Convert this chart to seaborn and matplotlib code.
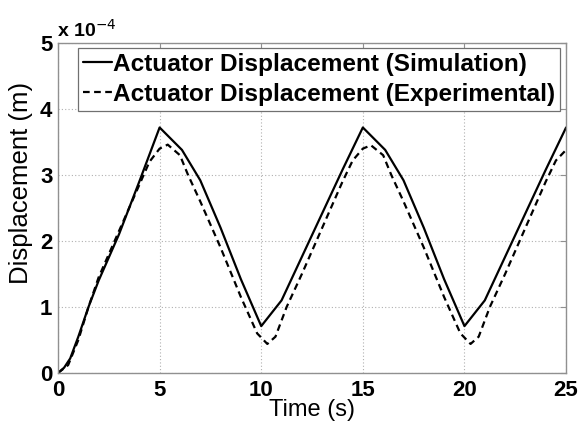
import matplotlib
matplotlib.use("Agg")
import matplotlib.pyplot as plt
import seaborn as sns
import pandas as pd

# ============================================================
# 데이터 (변위 단위: 1e-4 m)
# ============================================================

sim_t = [0, 0.3, 0.6, 1, 1.5, 2, 3, 4, 5, 6.1, 7, 8, 9, 10,
         11, 12, 13, 14, 15, 16.1, 17, 18, 19, 20,
         21, 22, 23, 24, 25]
sim_disp = [0, 0.08, 0.22, 0.55, 1.0, 1.4, 2.1, 2.9, 3.72, 3.38, 2.92, 2.2, 1.42, 0.71,
            1.1, 1.76, 2.42, 3.08, 3.72, 3.38, 2.92, 2.2, 1.42, 0.71,
            1.1, 1.76, 2.42, 3.08, 3.72]

exp_t = [0, 0.5, 1, 1.5, 2, 3, 4, 4.5, 5, 5.4, 6, 6.4, 7, 8, 9, 9.8, 10.3, 10.7,
         11.25, 12, 13, 14, 14.5, 15, 15.4, 16, 16.4, 17, 18, 19, 19.8, 20.3, 20.7,
         21.25, 22, 23, 24, 24.5, 25]
exp_disp = [0, 0.12, 0.5, 1.0, 1.45, 2.15, 2.85, 3.2, 3.4, 3.46, 3.3, 3.0, 2.6, 1.9, 1.15, 0.6, 0.44, 0.55,
            1.0, 1.5, 2.2, 2.9, 3.22, 3.4, 3.45, 3.3, 3.0, 2.6, 1.9, 1.15, 0.6, 0.44, 0.55,
            1.0, 1.5, 2.2, 2.9, 3.22, 3.38]

labels = ["Actuator Displacement (Simulation)", "Actuator Displacement (Experimental)"]
x_ticks = [0, 5, 10, 15, 20, 25]
y_ticks = [0, 1, 2, 3, 4, 5]

# ============================================================
# 기본 설정
# ============================================================

sns.set_style("white")
plt.rcParams["font.family"] = ["Liberation Sans", "DejaVu Sans"]
plt.rcParams["text.color"] = "black"
plt.rcParams["axes.labelcolor"] = "black"
plt.rcParams["xtick.labelcolor"] = "black"
plt.rcParams["ytick.labelcolor"] = "black"

df_sim = pd.DataFrame({"t": sim_t, "d": sim_disp})
df_exp = pd.DataFrame({"t": exp_t, "d": exp_disp})

fig = plt.figure(figsize=(5.8, 4.25), dpi=100)
ax = fig.add_axes([0.1, 0.1224, 0.876, 0.7764])

sns.lineplot(data=df_sim, x="t", y="d", ax=ax, color="black", linewidth=1.6,
             label=labels[0], sort=False)
sns.lineplot(data=df_exp, x="t", y="d", ax=ax, color="black", linewidth=1.6,
             linestyle=(0, (3, 2)), label=labels[1], sort=False)

ax.set_xlim(0, 25)
ax.set_ylim(0, 5)
ax.set_xticks(x_ticks)
ax.set_yticks(y_ticks)
ax.set_xticklabels([str(v) for v in x_ticks], fontsize=16, fontweight="bold")
ax.set_yticklabels([str(v) for v in y_ticks], fontsize=16, fontweight="bold")

ax.grid(True, color="#b0b0b0", linestyle=(0, (1, 2)), linewidth=0.8)
ax.tick_params(axis="x", direction="in", length=4, width=0.8, color="#909090",
               top=True, pad=5)
ax.tick_params(axis="y", direction="in", length=4, width=0.8, color="#909090",
               right=True, pad=4)
for sp in ax.spines.values():
    sp.set_color("#909090")
    sp.set_linewidth(1.0)

ax.set_xlabel("Time (s)", fontsize=17)
ax.xaxis.set_label_coords(0.5, -0.078)
ax.set_ylabel("Displacement (m)", fontsize=18.5)
ax.yaxis.set_label_coords(-0.05, 0.575)

ax.text(-0.002, 1.008, "x 10$^{-4}$", transform=ax.transAxes, fontsize=14,
        fontweight="bold", ha="left", va="bottom")

leg = ax.legend(loc="upper left", bbox_to_anchor=(0.039, 0.986),
                prop={"weight": "bold", "size": 17.6},
                handlelength=1.2, handletextpad=0.05, borderpad=0.2,
                labelspacing=0.3, borderaxespad=0, fancybox=False,
                framealpha=1, edgecolor="#707070")
leg.get_frame().set_linewidth(0.9)

plt.savefig("out.png", dpi=100)
